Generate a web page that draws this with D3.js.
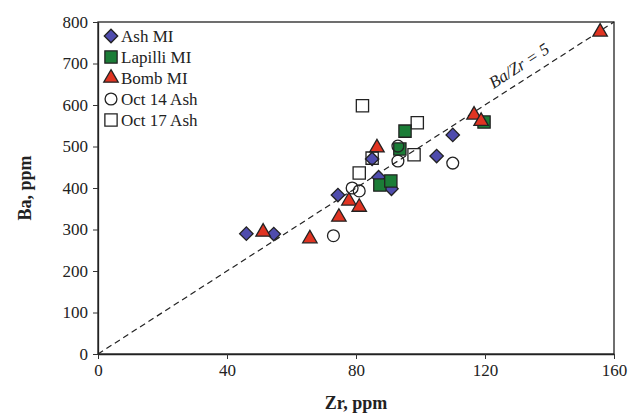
<!DOCTYPE html>
<html><head><meta charset="utf-8">
<script src="https://cdn.jsdelivr.net/npm/d3@7"></script>
<style>body{margin:0;background:#fff}svg{display:block}</style>
</head><body><svg id="c" width="632" height="416"></svg>
<script>
const xTicks = [0, 40, 80, 120, 160];
const yTicks = [0, 100, 200, 300, 400, 500, 600, 700, 800];
const seriesNames = ["Ash MI", "Lapilli MI", "Bomb MI", "Oct 14 Ash", "Oct 17 Ash"];
const ashZr = [46, 54.5, 74.4, 85, 87, 91, 105, 110];
const ashBa = [290, 289, 383, 470, 426, 398, 477, 528];
const lapZr = [87.4, 90.8, 93.6, 95.2, 119.7];
const lapBa = [407, 417, 494, 537, 559];
const bombZr = [51.2, 65.7, 74.7, 77.8, 81, 86.5, 116.6, 118.8, 155.7];
const bombBa = [294, 278, 330, 369, 354, 497, 576, 561, 776];
const oct14Zr = [73, 78.8, 81, 93, 93, 110];
const oct14Ba = [285, 400, 393, 465, 501, 460];
const oct17Zr = [81, 82, 85, 98, 99];
const oct17Ba = [436, 598, 472, 480, 557];
const ratioLine = [[0, 0], [160, 800]];
const ratioLabel = "Ba/Zr = 5";

const svg = d3.select("#c");
const M = {l: 98, r: 614, t: 22, b: 354};
const x = d3.scaleLinear().domain([0, 160]).range([M.l, M.r]);
const y = d3.scaleLinear().domain([0, 800]).range([M.b, M.t]);
const serif = "'Liberation Serif','Times New Roman',serif";

svg.append("rect").attr("x", M.l).attr("y", M.t).attr("width", M.r - M.l).attr("height", M.b - M.t)
  .attr("fill", "none").attr("stroke", "#222").attr("stroke-width", 1.3);

const xa = svg.append("g").attr("transform", `translate(0,${M.b})`)
  .call(d3.axisBottom(x).tickValues(xTicks).tickSize(5).tickSizeOuter(0).tickPadding(5));
const ya = svg.append("g").attr("transform", `translate(${M.l},0)`)
  .call(d3.axisLeft(y).tickValues(yTicks).tickSize(5).tickSizeOuter(0).tickPadding(5));
[xa, ya].forEach(a => {
  a.select(".domain").attr("stroke", "#222").attr("stroke-width", 1.3);
  a.selectAll("line").attr("stroke", "#333");
  a.selectAll("text").attr("font-family", serif).attr("font-size", 17).attr("fill", "#222");
});

svg.append("text").attr("x", x(80)).attr("y", 409).attr("text-anchor", "middle")
  .attr("font-family", serif).attr("font-weight", "bold").attr("font-size", 18).attr("fill", "#222").text("Zr, ppm");
svg.append("text").attr("transform", `translate(31,${y(400)}) rotate(-90)`).attr("text-anchor", "middle")
  .attr("font-family", serif).attr("font-weight", "bold").attr("font-size", 18).attr("fill", "#222").text("Ba, ppm");

svg.append("line").attr("x1", x(ratioLine[0][0])).attr("y1", y(ratioLine[0][1]))
  .attr("x2", x(ratioLine[1][0])).attr("y2", y(ratioLine[1][1]))
  .attr("stroke", "#222").attr("stroke-width", 1.2).attr("stroke-dasharray", "6,4");
const ang = Math.atan2(y(800) - y(0), x(160) - x(0)) * 180 / Math.PI;
svg.append("text").attr("transform", `translate(${x(133)},${y(665)}) rotate(${ang})`)
  .attr("y", -9)
  .attr("text-anchor", "middle").attr("font-family", serif).attr("font-style", "italic")
  .attr("font-size", 17).attr("fill", "#222").text(ratioLabel);

const styles = [
  {type: d3.symbolSquare, size: 90, fill: "#4f4cad", stroke: "#222", rot: 45},
  {type: d3.symbolSquare, size: 150, fill: "#1b7d37", stroke: "#222"},
  {type: d3.symbolTriangle, size: 90, fill: "#e03422", stroke: "#222"},
  {type: d3.symbolCircle, size: 110, fill: "none", stroke: "#222"},
  {type: d3.symbolSquare, size: 150, fill: "none", stroke: "#222"}
];

const data = [[ashZr, ashBa], [lapZr, lapBa], [bombZr, bombBa], [oct14Zr, oct14Ba], [oct17Zr, oct17Ba]];
data.forEach((d, i) => {
  const st = styles[i];
  const pts = d[0].map((z, j) => [z, d[1][j]]);
  svg.append("g").selectAll("path").data(pts).join("path")
    .attr("d", d3.symbol().type(st.type).size(st.size))
    .attr("transform", p => `translate(${x(p[0])},${y(p[1])}) rotate(${st.rot || 0})`)
    .attr("fill", st.fill).attr("stroke", st.stroke).attr("stroke-width", 1.3);
});

const lg = svg.append("g");
seriesNames.forEach((n, i) => {
  const st = styles[i];
  const cy = 36 + i * 21;
  lg.append("path").attr("d", d3.symbol().type(st.type).size(st.size))
    .attr("transform", `translate(111,${cy}) rotate(${st.rot || 0})`)
    .attr("fill", st.fill === "none" ? "#fff" : st.fill).attr("stroke", st.stroke).attr("stroke-width", 1.3);
  lg.append("text").attr("x", 121).attr("y", cy + 6).attr("font-family", serif).attr("font-size", 17)
    .attr("fill", "#222").text(n);
});
</script></body></html>
